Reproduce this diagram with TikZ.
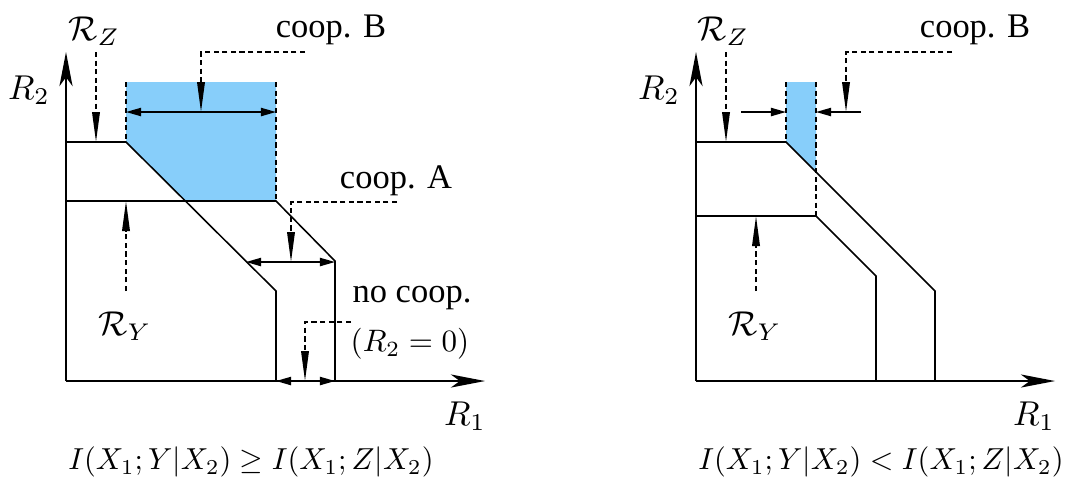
\documentclass[tikz,border=0pt]{standalone}
\usepackage[no-math]{fontspec}
\setmainfont{Liberation Serif}
\usetikzlibrary{arrows.meta}
\definecolor{coopBlue}{RGB}{135,206,250}

\begin{document}
\begin{tikzpicture}[x=0.29pt,y=-0.29pt,
    axis/.style={line width=0.55pt,-{Stealth[length=9.9pt,width=3.8pt,inset=2.6pt]}},
    bound/.style={line width=0.45pt},
    guide/.style={line width=0.45pt,dash pattern=on 1.5pt off 1pt},
    vtip/.style={-{Triangle[length=8.7pt,width=2.2pt]}},
    htip/.style={-{Triangle[length=4.4pt,width=2.4pt]}},
    hboth/.style={{Triangle[length=4.4pt,width=2.4pt]}-{Triangle[length=4.4pt,width=2.4pt]}},
    lbl/.style={inner sep=0pt}]
  \useasboundingbox (0,0) rectangle (1070,481);

  % ---------- left: I(X1;Y|X2) >= I(X1;Z|X2) ----------
  \coordinate (oL) at (66,381);
  \coordinate (zL1) at (66,142);  \coordinate (zL2) at (126,142);
  \coordinate (zL3) at (276,291); \coordinate (zL4) at (276,381);
  \coordinate (yL1) at (66,201);  \coordinate (yL2) at (276,201);
  \coordinate (yL3) at (335,261); \coordinate (yL4) at (335,381);
  % shaded gain of cooperation B
  \fill[coopBlue] (126,82) -- (276,82) -- (yL2) -- (185,201) -- (zL2) -- cycle;
  \draw[guide] (126,82) -- (zL2);
  \draw[guide] (276,82) -- (yL2);
  % axes
  \draw[axis] (oL) -- (66,52);
  \draw[axis] (oL) -- (485,381);
  % region boundaries
  \draw[bound] (zL1) -- (zL2) -- (zL3) -- (zL4);
  \draw[bound] (yL1) -- (yL2) -- (yL3) -- (yL4);
  % widths of the gains
  \draw[bound,hboth] (126,112) -- (276,112);
  \draw[bound,hboth] (246,262) -- (335,262);
  \draw[bound,hboth] (zL4) -- (yL4);
  % labels
  \node[lbl] (r2L) at (29,90) {$R_2$};
  \node[lbl] (r1L) at (465,416) {$R_1$};
  \node[lbl] (rzL) at (94,31) {$\mathcal{R}_Z$};
  \node[lbl] (ryL) at (125,326) {$\mathcal{R}_Y$};
  \node[lbl] (cbL) at (331,30) {coop. B};
  \node[lbl] (caL) at (396,181) {coop. A};
  \node[lbl] (ncL) at (412,298) {no coop.};
  \node[lbl] (nzL) at (410,344) {\scalebox{0.9}{$(R_2=0)$}};
  \node[lbl] (capL) at (251,462) {\scalebox{0.88}{$I(X_1;Y|X_2)\geq I(X_1;Z|X_2)$}};
  % dashed pointers
  \draw[guide,vtip] (96,52) -- (96,142);
  \draw[guide,vtip] (126,291) -- (126,201);
  \draw[guide,vtip] (305,52) -- (201,52) -- (201,112);
  \draw[guide,vtip] (397,202) -- (291,202) -- (291,262);
  \draw[guide,vtip] (351,322) -- (305,322) -- (305,381);

  % ---------- right: I(X1;Y|X2) < I(X1;Z|X2) ----------
  \coordinate (oR) at (696,381);
  \coordinate (zR1) at (696,142); \coordinate (zR2) at (786,142);
  \coordinate (zR3) at (935,291); \coordinate (zR4) at (935,381);
  \coordinate (yR1) at (696,216); \coordinate (yR2) at (816,216);
  \coordinate (yR3) at (876,276); \coordinate (yR4) at (876,381);
  % shaded gain of cooperation B
  \fill[coopBlue] (786,82) -- (816,82) -- (816,172) -- (zR2) -- cycle;
  \draw[guide] (786,82) -- (zR2);
  \draw[guide] (816,82) -- (yR2);
  % axes
  \draw[axis] (oR) -- (696,52);
  \draw[axis] (oR) -- (1055,381);
  % region boundaries
  \draw[bound] (zR1) -- (zR2) -- (zR3) -- (zR4);
  \draw[bound] (yR1) -- (yR2) -- (yR3) -- (yR4);
  % width of the gain
  \draw[bound,htip] (741,112) -- (786,112);
  \draw[bound,htip] (861,112) -- (816,112);
  % labels
  \node[lbl] (r2R) at (659,90) {$R_2$};
  \node[lbl] (r1R) at (1034,416) {$R_1$};
  \node[lbl] (rzR) at (723,31) {$\mathcal{R}_Z$};
  \node[lbl] (ryR) at (755,326) {$\mathcal{R}_Y$};
  \node[lbl] (cbR) at (975,30) {coop. B};
  \node[lbl] (capR) at (881,462) {\scalebox{0.88}{$I(X_1;Y|X_2)<I(X_1;Z|X_2)$}};
  % dashed pointers
  \draw[guide,vtip] (726,52) -- (726,142);
  \draw[guide,vtip] (756,291) -- (756,216);
  \draw[guide,vtip] (952,52) -- (846,52) -- (846,112);
\end{tikzpicture}
\end{document}
